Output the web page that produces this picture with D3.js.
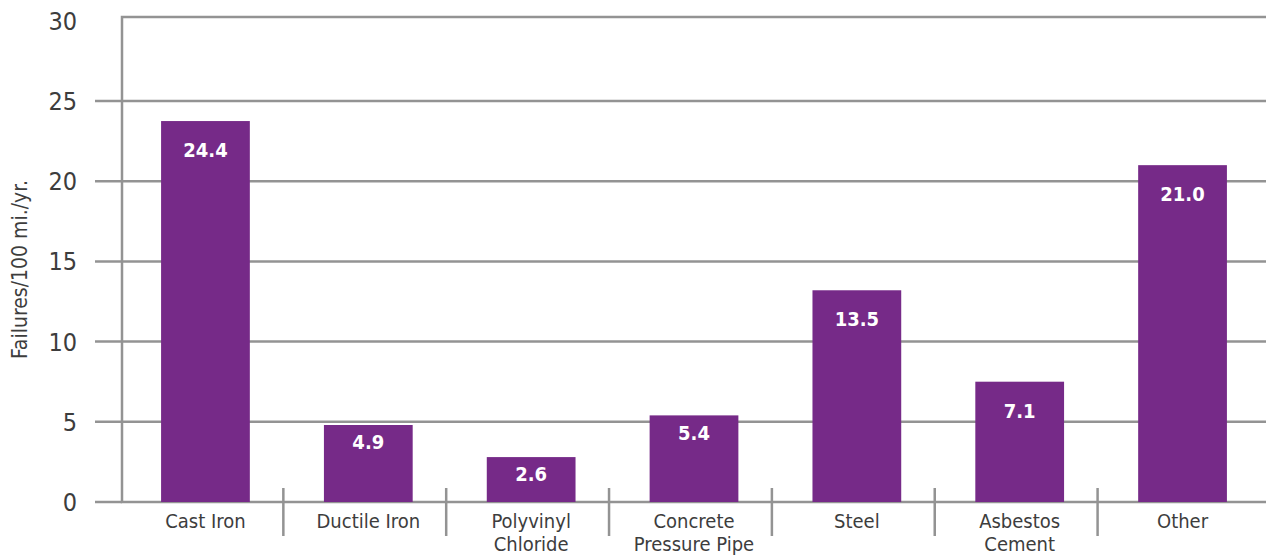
<!DOCTYPE html>
<html>
<head>
<meta charset="utf-8">
<script src="https://cdn.jsdelivr.net/npm/d3@7"></script>
<style>
  body { margin: 0; background: #fff; }
  svg text { font-family: "Liberation Sans Narrow", "DejaVu Sans Condensed", "Roboto Condensed", Roboto, sans-serif; font-stretch: condensed; }
</style>
</head>
<body>
<div id="chart"></div>
<script>
// pipe material failure rates (bar heights, labels as printed)
let categories = [["Cast Iron"], ["Ductile Iron"], ["Polyvinyl", "Chloride"],
                  ["Concrete", "Pressure Pipe"], ["Steel"], ["Asbestos", "Cement"], ["Other"]];
let values = [23.75, 4.8, 2.8, 5.4, 13.2, 7.5, 21.0];
let valueLabels = ["24.4", "4.9", "2.6", "5.4", "13.5", "7.1", "21.0"];
let yTicks = [0, 5, 10, 15, 20, 25, 30];

let svgW = 1266, svgH = 556;
let plotL = 122, plotR = 1266, plotT = 17, plotB = 502;
let purple = "#762a88", grid = "#939393", textCol = "#3d3d3d";

let svg = d3.select("#chart").append("svg")
  .attr("width", svgW)
  .attr("height", svgH);

let xScale = d3.scaleBand()
  .domain(d3.range(categories.length))
  .range([plotL, plotR])
  .paddingInner(0.455)
  .paddingOuter(0.24);

let yScale = d3.scaleLinear().domain([0, 30]).range([plotB, 20.8]);

// gridlines (with the little stub left of the axis)
svg.append("g")
  .selectAll("line")
  .data(yTicks.filter(d => d > 0 && d < 30))
  .enter().append("line")
  .attr("x1", 95).attr("x2", plotR)
  .attr("y1", d => yScale(d)).attr("y2", d => yScale(d))
  .attr("stroke", grid).attr("stroke-width", 2.5);

// frame: top line, left axis, baseline
svg.append("path")
  .attr("d", `M ${plotR},${plotT} L ${plotL},${plotT} L ${plotL},${plotB} L ${plotR},${plotB}`)
  .attr("fill", "none").attr("stroke", grid).attr("stroke-width", 2.5);
svg.append("line")
  .attr("x1", 95).attr("x2", plotL)
  .attr("y1", plotB).attr("y2", plotB)
  .attr("stroke", grid).attr("stroke-width", 2.5);

// category separators
let step = xScale.step();
svg.append("g")
  .selectAll("line")
  .data(d3.range(1, categories.length))
  .enter().append("line")
  .attr("x1", d => plotL + d * step - 1.5).attr("x2", d => plotL + d * step - 1.5)
  .attr("y1", 488).attr("y2", 536)
  .attr("stroke", grid).attr("stroke-width", 2.5);

// y tick labels
svg.append("g")
  .selectAll("text")
  .data(yTicks)
  .enter().append("text")
  .attr("x", 77)
  .attr("y", d => yScale(d))
  .attr("dy", "0.36em")
  .attr("text-anchor", "end")
  .attr("font-size", 25)
  .attr("fill", textCol)
  .text(d => d);

// y axis title
svg.append("text")
  .attr("transform", "translate(27," + ((plotT + plotB) / 2 + 10) + ") rotate(-90)")
  .attr("text-anchor", "middle")
  .attr("font-size", 21)
  .attr("fill", textCol)
  .text("Failures/100 mi./yr.");

// bars
svg.append("g")
  .selectAll("rect")
  .data(values)
  .enter().append("rect")
  .attr("x", (d, i) => xScale(i))
  .attr("y", d => yScale(d))
  .attr("width", xScale.bandwidth())
  .attr("height", d => plotB - yScale(d))
  .attr("fill", purple);

// value labels
svg.append("g")
  .selectAll("text")
  .data(values)
  .enter().append("text")
  .attr("x", (d, i) => xScale(i) + xScale.bandwidth() / 2)
  .attr("y", d => yScale(d) + (d > 6 ? 29 : 17))
  .attr("dy", "0.36em")
  .attr("text-anchor", "middle")
  .attr("font-size", 20)
  .attr("font-weight", "bold")
  .attr("fill", "#fff")
  .text((d, i) => valueLabels[i]);

// category labels
let cat = svg.append("g")
  .selectAll("text")
  .data(categories)
  .enter().append("text")
  .attr("x", (d, i) => xScale(i) + xScale.bandwidth() / 2)
  .attr("y", 528)
  .attr("text-anchor", "middle")
  .attr("font-size", 20)
  .attr("fill", textCol);

cat.selectAll("tspan")
  .data(d => d)
  .enter().append("tspan")
  .attr("x", function() { return d3.select(this.parentNode).attr("x"); })
  .attr("dy", (d, i) => i === 0 ? 0 : 23)
  .text(d => d);
</script>
</body>
</html>
